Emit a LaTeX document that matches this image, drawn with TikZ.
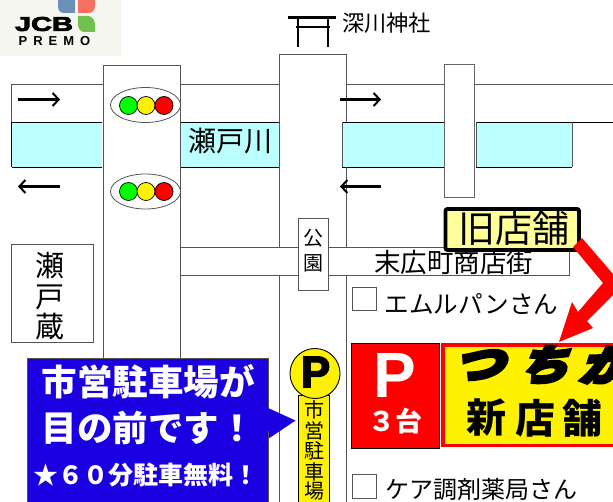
\documentclass[tikz,border=0pt]{standalone}
\usepackage{fontspec}
\usetikzlibrary{arrows.meta}
\setmainfont{Noto Sans CJK JP}
\newfontfamily\jpslant[FakeSlant=0.35]{Noto Sans CJK JP}
\newfontfamily\latinbold{Liberation Sans}
\newcommand{\fs}[1]{\fontsize{#1}{#1}\selectfont}
\newcommand{\heavy}[2]{\special{pdf:code 2 Tr #1 w}#2\special{pdf:code 0 Tr 1 w}}
\definecolor{roadline}{HTML}{555555}
\definecolor{river}{HTML}{BBFFFF}
\definecolor{callout}{HTML}{1A00E0}
\definecolor{oldshop}{HTML}{FFFF99}
\definecolor{logobg}{HTML}{F6F6F1}
\definecolor{petalblue}{HTML}{6B8FB5}
\definecolor{petalred}{HTML}{F87060}
\definecolor{petalgreen}{HTML}{70C050}
\tikzset{
  road/.style={draw=roadline,line width=0.9pt},
  riveredge/.style={draw=black,line width=0.9pt},
  riverside/.style={draw=roadline,line width=0.9pt},
  dirarrow/.style={line width=2.8pt,-{Straight Barb[length=6pt,width=13pt,line width=2pt]}},
  lamp/.style={circle,draw=black,line width=0.7pt,minimum size=18pt,inner sep=0pt},
  txt/.style={inner sep=0pt,text=black},
  tick/.style={draw=roadline,line width=1pt,fill=white},
}
\begin{document}
\begin{tikzpicture}[x=1pt,y=-1pt]
\useasboundingbox (0,0) rectangle (613,502);
\clip (0,0) rectangle (613,502);
\fill[white] (0,0) rectangle (613,502);
% logo
\fill[logobg] (0,0) rectangle (121,56);
\fill[petalblue] (58,0) -- (75,0) -- (75,13) -- (64,13) .. controls (60,13) and (58,10) .. (58,6) -- cycle;
\fill[petalred] (78,0) -- (95,0) -- (95,6) .. controls (95,10) and (92,13) .. (89,13) -- (78,13) -- cycle;
\fill[petalgreen] (78,16) -- (88,16) .. controls (92,16) and (95,20) .. (95,25) -- (95,32) -- (84,32) .. controls (80,32) and (78,28) .. (78,24) -- cycle;
\node[txt,font=\latinbold\bfseries\fs{20},xscale=1.45] (jcb) at (44,24) {\heavy{0.7}{JCB}};
\node[txt,font=\latinbold\bfseries\fs{13}] (premo) at (54.5,41) {P\hspace{6pt}R\hspace{6pt}E\hspace{6pt}M\hspace{6pt}O};
% rivers
\fill[river] (12,122) rectangle (102,167);
\fill[river] (180,122) rectangle (279,167);
\fill[river] (342,122) rectangle (444,167);
\fill[river] (476,122) rectangle (572,167);
\draw[riveredge] (12,122) -- (102,122) (12,167) -- (102,167);
\draw[riveredge] (180,122) -- (279,122) (180,167) -- (279,167);
\draw[riveredge] (342,122.5) -- (444,122.5) (342,167) -- (444,167);
\draw[riveredge] (476,122.5) -- (613,122.5) (476,167) -- (572,167);
\draw[riverside] (342,122) -- (342,167) (476,122) -- (476,167) (572,122) -- (572,167);
\draw[riveredge] (11.5,122) -- (11.5,167);
% upper road
\draw[road] (103,84.5) -- (11.5,84.5) -- (11.5,122);
\draw[road] (180,84.5) -- (279,84.5);
\draw[road] (346,84.5) -- (444,84.5) (474,84.5) -- (613,84.5);
% vertical roads
\draw[road] (103,358) -- (103,65) -- (180,65) -- (180,358);
\draw[road] (279,247) -- (279,54.5) -- (346.5,54.5) -- (346.5,122) (346.5,167) -- (346.5,247);
\draw[road] (279,275) -- (279,502) (346.5,275) -- (346.5,502);
% shopping street
\draw[road] (180,247) -- (569,247) -- (569,275) -- (180,275);
% bridge
\draw[draw=gray!80!black,line width=1pt,fill=white] (444.5,65) rectangle (474,198);
% koen box
\draw[tick,draw=roadline] (298,219) rectangle (328,290.5);
\node[txt,font=\fs{20}] (ko) at (313,238.5) {公};
\node[txt,font=\fs{20}] (en) at (313,263) {園};
% setogura
\draw[road] (11.5,244) rectangle (93,342.5);
\node[txt,font=\fs{29}] (se) at (50,266) {瀬};
\node[txt,font=\fs{29}] (to) at (50,297) {戸};
\node[txt,font=\fs{29}] (kura) at (50,327) {蔵};
% signals
\draw[draw=roadline,fill=white,line width=0.8pt] (145.5,105) ellipse [x radius=35,y radius=17.5];
\draw[draw=roadline,fill=white,line width=0.8pt] (145.5,191.5) ellipse [x radius=35,y radius=17.5];
\node[lamp,fill=green] (g1) at (128.5,105.5) {};
\node[lamp,fill=yellow] (y1) at (146,105.5) {};
\node[lamp,fill=red] (r1) at (164,105.5) {};
\node[lamp,fill=green] (g2) at (128.5,191.5) {};
\node[lamp,fill=yellow] (y2) at (146,191.5) {};
\node[lamp,fill=red] (r2) at (164,191.5) {};
% arrows
\coordinate (a1s) at (18,99.5); \coordinate (a1e) at (60,99.5);
\coordinate (a2s) at (60,186.5); \coordinate (a2e) at (18,186.5);
\coordinate (a3s) at (340,99.5); \coordinate (a3e) at (381,99.5);
\coordinate (a4s) at (381,186.5); \coordinate (a4e) at (340,186.5);
\draw[dirarrow] (a1s) -- (a1e);
\draw[dirarrow] (a2s) -- (a2e);
\draw[dirarrow] (a3s) -- (a3e);
\draw[dirarrow] (a4s) -- (a4e);
% torii
\draw[line width=2.4pt] (288,17.5) -- (336,17.5);
\draw[line width=2pt] (296,27) -- (330,27);
\draw[line width=2.4pt] (298,17.5) -- (298,47.5) (328,17.5) -- (328,47.5);
\node[txt,font=\fs{22.2}] (jinja) at (386.5,23) {深川神社};
\node[txt,font=\fs{28}] (segawa) at (230,141) {瀬戸川};
\node[txt,font=\fs{26.5}] (shotengai) at (453.5,262.5) {末広町商店街};
% old shop
\draw[draw=black,line width=3.8pt,rounded corners=2pt,fill=oldshop] (445.5,209) rectangle (579,250);
\node[txt,font=\fs{37}] (old) at (514,228) {旧店舗};
% red arrow
\fill[red] (573,247) -- (582,238) -- (613,274) -- (613,295) -- (587,321) -- (593,328) -- (559,342) -- (572,302) -- (578,312) -- (603,283) -- cycle;
% shop labels
\draw[tick] (352,287.5) rectangle (376,311);
\node[txt,font=\fs{24.6}] (em) at (471.5,304) {エムルパンさん};
\draw[tick] (352,474) rectangle (376,498);
\node[txt,font=\fs{24}] (care) at (481.5,489) {ケア調剤薬局さん};
% P box
\draw[draw=black,line width=0.8pt,fill=red] (351,343.5) rectangle (439.5,448);
\node[txt,font=\latinbold\bfseries\fs{64},text=white] (pw) at (395,375) {P};
\node[txt,font=\bfseries\fs{27},text=white] (three) at (395,421.5) {３台};
% new shop
\draw[draw=red,line width=3.2pt,fill=yellow] (443,345) rectangle (620,445.5);
\node[txt,font=\jpslant\bfseries\fs{42},xscale=1.2] (name1) at (477,365) {\heavy{3}{つ}};
\node[txt,font=\jpslant\bfseries\fs{42},xscale=1.2] (name2) at (542,365) {\heavy{3}{ち}};
\node[txt,font=\jpslant\bfseries\fs{42},xscale=1.2] (name3) at (603,365) {\heavy{3}{か}};
\node[txt,font=\bfseries\fs{40}] (new1) at (486.5,418) {新};
\node[txt,font=\bfseries\fs{40}] (new2) at (535,418) {店};
\node[txt,font=\bfseries\fs{40}] (new3) at (582,418) {舗};
% parking sign
\draw[draw=black,line width=0.9pt,fill=yellow] (298.5,395) rectangle (329,503);
\draw[draw=black,line width=0.9pt,fill=yellow] (315,373.5) circle (25);
\node[txt,font=\latinbold\bfseries\fs{44}] (pb) at (315.5,372) {\heavy{1.5}{P}};
\node[txt,font=\fs{20}] (v1) at (314,409.5) {市};
\node[txt,font=\fs{20}] (v2) at (314,430.5) {営};
\node[txt,font=\fs{20}] (v3) at (314,451) {駐};
\node[txt,font=\fs{20}] (v4) at (314,471.5) {車};
\node[txt,font=\fs{20}] (v5) at (314,491.5) {場};
% callout
\fill[callout] (27.5,358) rectangle (268,503);
\fill[callout] (268,408) -- (295.5,420.5) -- (268,439) -- cycle;
\draw[draw=roadline,line width=0.8pt] (27.5,503) -- (27.5,358) -- (268,358) -- (268,408) (268,431) -- (268,503);
\node[txt,font=\bfseries\fs{35.5},text=white] (c1) at (148,382) {市営駐車場が};
\node[txt,font=\bfseries\fs{35.5},text=white] (c2) at (148,428) {目の前です！};
\node[txt,font=\bfseries\fs{25},text=white] (c3) at (146,475) {★６０分駐車無料！};
\end{tikzpicture}
\end{document}
